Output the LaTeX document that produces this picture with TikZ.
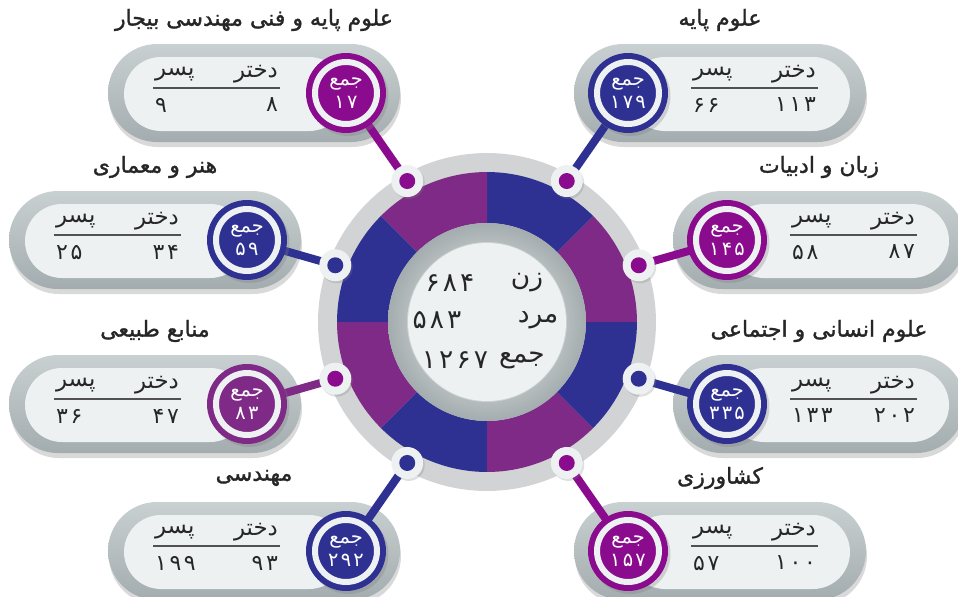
\documentclass[tikz,border=0pt]{standalone}
\usepackage{fontspec}
\usetikzlibrary{positioning, calc, shadows}
\TeXXeTstate=1
\newfontfamily\fa[Script=Arabic]{DejaVu Sans}
\newfontfamily\fabold[Script=Arabic, FakeBold=1.4]{DejaVu Sans}
\newfontfamily\fanum[Script=Arabic, LetterSpace=12]{DejaVu Sans}
\definecolor{ringblue}{HTML}{2E3192}
\definecolor{ringpurple}{HTML}{7E2A86}
\definecolor{badgepurple}{HTML}{8A0B8D}
\definecolor{ringgray}{HTML}{D1D3D4}
\definecolor{paper}{HTML}{EEF1F2}
\definecolor{pilltop}{HTML}{C9D0D2}
\definecolor{pillbot}{HTML}{A3ACAE}
\definecolor{ink}{HTML}{262626}
\pgfdeclarelayer{back}
\pgfdeclarelayer{links}
\pgfsetlayers{back,links,main}
\newcommand{\px}{0.02cm}
\newcommand{\card}[9]{%
  \begin{pgfonlayer}{back}
    \shade[pill] ({#2-(#4)*54},{#3-49}) rectangle ({#2+(#4)*238},{#3+49});
    \fill[paper, rounded corners = 0.74cm] (#2,{#3-36}) rectangle ({#2+(#4)*222},{#3+38});
  \end{pgfonlayer}
  \node[badge, fill = #5] (#1) at (#2,#3) {};
  \node[badgecore, fill = #5] (#1c) at (#1) {جمع\\{\fanum #9}};
  \node[title] (#1t) at ({#2+(#4)*92},{#3-73}) {#6};
  \node[head, anchor = east] (#1g) at ({#2+62+128*(#4)},{#3-19}) {دختر};
  \node[head, anchor = west] (#1b) at ({#2-65+128*(#4)},{#3-19}) {پسر};
  \draw[rule] ({#2-65+128*(#4)},{#3-5}) -- ({#2+62+128*(#4)},{#3-5});
  \node[num, anchor = east] (#1gn) at ({#2+62+128*(#4)},{#3+12}) {#7};
  \node[num, anchor = west] (#1bn) at ({#2-65+128*(#4)},{#3+12}) {#8};
}

\begin{document}
\begin{tikzpicture}[
      x = \px,
      y = -\px,
      every node/.style = {inner sep = 1pt, text = ink},
      pill/.style = {top color = pilltop, bottom color = pillbot, rounded corners = 0.98cm,
        drop shadow = {opacity = 0.3, shadow xshift = 0.02cm, shadow yshift = -0.1cm}},
      badge/.style = {circle, minimum size = 1.6cm, inner sep = 0pt,
        drop shadow = {opacity = 0.3, shadow xshift = 0.05cm, shadow yshift = -0.06cm}},
      badgecore/.style = {circle, draw = paper, line width = 0.12cm, minimum size = 1.24cm,
        inner sep = 0pt, text = white, align = center, font = \fa\fontsize{11}{13}\selectfont},
      title/.style = {font = \fabold\fontsize{12.5}{14}\selectfont},
      head/.style = {font = \fa\fontsize{13}{14}\selectfont},
      num/.style = {font = \fanum\fontsize{12.5}{14}\selectfont},
      rule/.style = {draw = ink!80, line width = 0.6pt},
      hubtext/.style = {font = \fa\fontsize{15}{17}\selectfont},
      hubnum/.style = {font = \fanum\fontsize{15}{17}\selectfont},
      dotring/.style = {circle, fill = paper, minimum size = 0.64cm, inner sep = 0pt,
        drop shadow = {opacity = 0.25, shadow xshift = 0.03cm, shadow yshift = -0.04cm}},
      dotcore/.style = {circle, minimum size = 0.32cm, inner sep = 0pt},
      link/.style = {line width = 0.16cm}]

      \useasboundingbox (0,0) rectangle (958,596);
      \coordinate (hub) at (487,322);

      \begin{pgfonlayer}{back}
        \fill[ringgray] (hub) circle[radius = 3.38cm];
        \foreach \a/\c in {0/ringpurple, 45/ringblue, 90/ringpurple, 135/ringblue,
                           180/ringpurple, 225/ringblue, 270/ringpurple, 315/ringblue}
          \fill[\c] ($(hub)+(\a:3cm)$) arc[start angle = \a, delta angle = 45, radius = 3cm]
            -- ($(hub)+(\a+45:1.98cm)$) arc[start angle = \a+45, delta angle = -45, radius = 1.98cm] -- cycle;
        \shade[even odd rule, inner color = white, outer color = pillbot]
          (hub) circle[radius = 1.98cm] (hub) circle[radius = 1.6cm];
        \fill[paper] (hub) circle[radius = 1.58cm];
      \end{pgfonlayer}

      \node[hubtext] (zn) at (527,283) {زن};
      \node[hubtext] (md) at (538,320) {مرد};
      \node[hubtext] (jm) at (522,360) {جمع};
      \node[hubnum] (znv) at (450,283) {۶۸۴};
      \node[hubnum] (mdv) at (437,320) {۵۸۳};
      \node[hubnum] (jmv) at (455,360) {۱۲۶۷};

      \card{b1}{346}{93}{-1}{badgepurple}{\beginR علوم پایه و فنی مهندسی بیجار\endR}{۸}{۹}{۱۷}
      \card{b2}{247}{240}{-1}{ringblue}{\beginR هنر و معماری\endR}{۳۴}{۲۵}{۵۹}
      \card{b3}{247}{404}{-1}{ringpurple}{\beginR منابع طبیعی\endR}{۴۷}{۳۶}{۸۳}
      \card{b4}{346}{551}{-1}{ringblue}{مهندسی}{۹۳}{۱۹۹}{۲۹۲}
      \card{b5}{628}{93}{1}{ringblue}{\beginR علوم پایه\endR}{۱۱۳}{۶۶}{۱۷۹}
      \card{b6}{727}{240}{1}{badgepurple}{\beginR زبان و ادبیات\endR}{۸۷}{۵۸}{۱۴۵}
      \card{b7}{727}{404}{1}{ringblue}{\beginR علوم انسانی و اجتماعی\endR}{۲۰۲}{۱۳۳}{۳۳۵}
      \card{b8}{628}{551}{1}{badgepurple}{کشاورزی}{۱۰۰}{۵۷}{۱۵۷}

      \foreach \ang/\col [count = \i] in {119.5/badgepurple, 159.5/ringblue, -159.5/badgepurple,
                                          -119.5/ringblue, 60.5/badgepurple, 20.5/badgepurple,
                                          -20.5/ringblue, -60.5/badgepurple} {
        \node[dotring] (d\i) at ($(hub)+(\ang:3.24cm)$) {};
        \node[dotcore, fill = \col] (dc\i) at (d\i) {};
      }

      \begin{pgfonlayer}{links}
        \foreach \i/\c in {1/badgepurple, 2/ringblue, 3/ringpurple, 4/ringblue,
                           5/ringblue, 6/badgepurple, 7/ringblue, 8/badgepurple}
          \draw[link, \c] (d\i.center) -- (b\i.center);
      \end{pgfonlayer}
\end{tikzpicture}
\end{document}
